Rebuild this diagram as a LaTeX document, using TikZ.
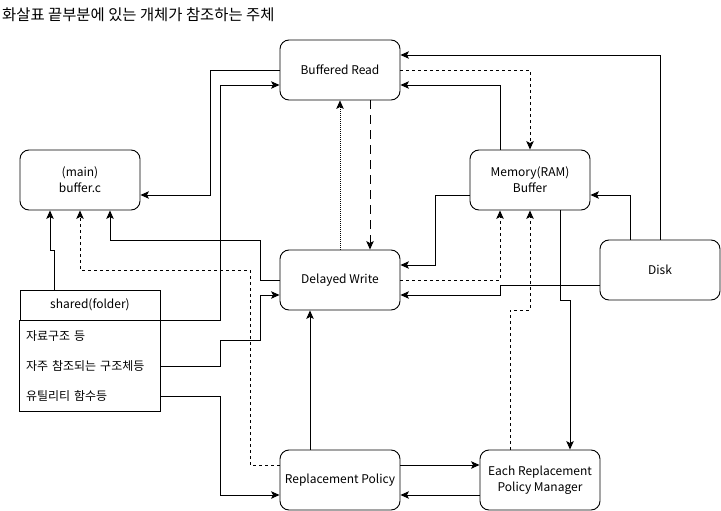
\documentclass[tikz,border=0pt]{standalone}
\usepackage{fontspec}
\setmainfont{Noto Sans CJK KR}
\usepackage{tikz}
\usetikzlibrary{positioning, arrows.meta}
\tikzstyle{state} = [rectangle, rounded corners=9pt, minimum width=120pt, minimum height=60pt, text centered, align=center, draw=black, line width=0.9pt, font=\fontsize{12}{16}\selectfont]
\tikzstyle{folder} = [rectangle, minimum width=140pt, minimum height=30pt, text centered, draw=black, line width=0.9pt, font=\fontsize{12}{16}\selectfont]
\tikzstyle{item} = [rectangle, text width=128pt, inner xsep=6pt, inner ysep=0pt, minimum height=30pt, align=left, font=\fontsize{12}{16}\selectfont]
\tikzstyle{arrow} = [line width=0.9pt,->,>={Stealth[length=8.5pt,width=7.5pt,inset=2pt]}]
\tikzstyle{dref} = [arrow, dash pattern=on 3pt off 3pt]
\tikzstyle{dotref} = [arrow, dash pattern=on 1pt off 1pt]
\tikzstyle{ldashref} = [arrow, dash pattern=on 9pt off 6pt]

\begin{document}
\begin{tikzpicture}[x=1pt, y=-1pt, node distance=200pt]
        \useasboundingbox (0,0) rectangle (721,511);
        \node (title) [anchor=west, inner sep=0pt, font=\fontsize{15.4}{18}\selectfont] at (2,15) {화살표 끝부분에 있는 개체가 참조하는 주체};

        \node (bread) [state] at (340,70) {Buffered Read};
        \node (dwrite) [state, below of=bread, yshift=-10pt] {Delayed Write};
        \node (rpolicy) [state, below of=dwrite] {Replacement Policy};
        \node (manager) [state, right of=rpolicy] {Each Replacement\\Policy Manager};
        \node (memory) [state, right of=bread, xshift=-10pt, yshift=-110pt] {Memory(RAM)\\Buffer};
        \node (main) [state, left of=bread, xshift=-60pt, yshift=-110pt] {(main)\\buffer.c};
        \node (disk) [state, right of=dwrite, xshift=120pt, yshift=10pt] {Disk};

        \node (shared) [folder, below of=main, xshift=10pt, yshift=75pt] {shared(folder)};
        \node (row1) [item, below=0pt of shared] {자료구조 등};
        \node (row2) [item, below=0pt of row1] {자주 참조되는 구조체등};
        \node (row3) [item, below=0pt of row2] {유틸리티 함수등};
        \draw [line width=0.9pt] (row1.north west) rectangle (row3.south east);

        % Buffered Read
        \draw [arrow] (bread.west) -| (210,195) -- (main.east |- 0,195);
        \draw [arrow] (shared.south east) -| (220,85) -- (bread.west |- 0,85);
        \draw [arrow] (disk.north) |- (bread.east |- 0,55);
        \draw [dref] (bread.east) -| (memory.north);
        \draw [arrow] ([xshift=-30pt]memory.north) |- (bread.east |- 0,85);
        \draw [dotref, line width=0.6pt] (dwrite.north) -- (bread.south);
        \draw [ldashref] ([xshift=30pt]bread.south) -- ([xshift=30pt]dwrite.north);

        % Memory and Disk
        \draw [arrow] (memory.west |- 0,195) -| (435,265) -- (dwrite.east |- 0,265);
        \draw [dref] (dwrite.east) -| ([xshift=-30pt]memory.south);
        \draw [arrow] (disk.west |- 0,285) -- (500,285) |- (dwrite.east |- 0,295);
        \draw [arrow] ([xshift=30pt]memory.south) |- (570,300) -| ([xshift=30pt]manager.north);
        \draw [dref] ([xshift=-30pt]manager.north) |- (530,310) -- (memory.south);
        \draw [arrow] ([xshift=-30pt]disk.north) |- (memory.east |- 0,195);

        % buffer.c and shared
        \draw [arrow] (dwrite.west) -| (260,240) -| ([xshift=30pt]main.south);
        \draw [arrow] (row2.east) -| (220,340) -| (260,295) -- (dwrite.west |- 0,295);
        \draw [arrow] (row3.east) -| (220,495) -- (rpolicy.west |- 0,495);
        \draw [dref] (rpolicy.west |- 0,465) -| (250,270) -| (main.south);
        \draw [arrow] ([xshift=35pt]shared.north west) |- (50,250) -- ([xshift=-30pt]main.south);

        % Replacement Policy
        \draw [arrow] ([xshift=-30pt]rpolicy.north) -- ([xshift=-30pt]dwrite.south);
        \draw [arrow] (rpolicy.east |- 0,465) -- (manager.west |- 0,465);
        \draw [arrow] (manager.west |- 0,495) -- (rpolicy.east |- 0,495);
\end{tikzpicture}
\end{document}
